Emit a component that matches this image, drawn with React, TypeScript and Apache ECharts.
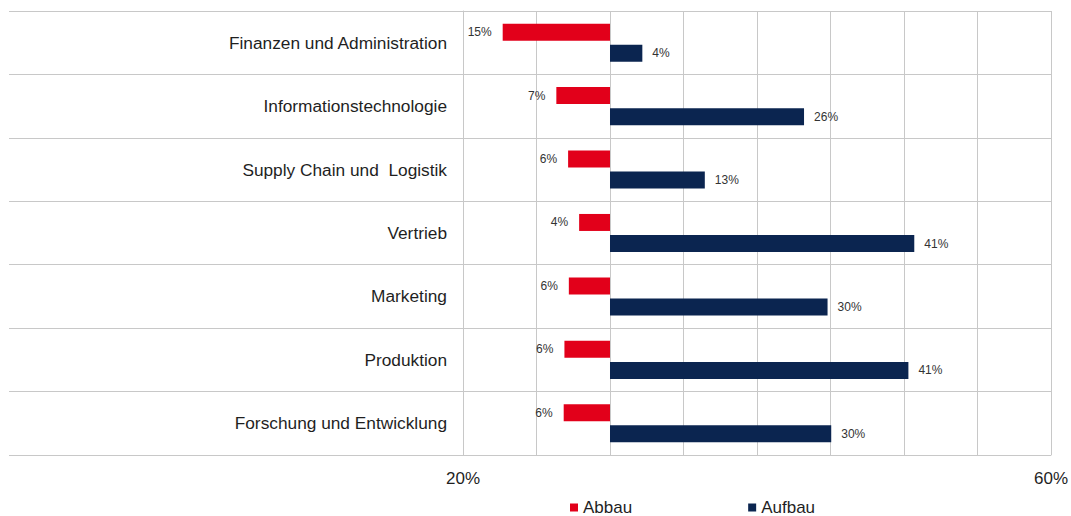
import React, { useEffect, useRef } from "react";
import * as echarts from "echarts";

const categories = [
  "Finanzen und Administration",
  "Informationstechnologie",
  "Supply Chain und  Logistik",
  "Vertrieb",
  "Marketing",
  "Produktion",
  "Forschung und Entwicklung",
];
const abbau = [14.6, 7.3, 5.7, 4.2, 5.6, 6.2, 6.3];
const aufbau = [4.4, 26.4, 12.9, 41.4, 29.6, 40.6, 30.1];
const axisLabelsShown = [-20, 60];

const FONT = "'Liberation Sans', Arial, sans-serif";
const GRID = "#c8c8c8";

export default function App() {
  const ref = useRef<HTMLDivElement>(null);
  useEffect(() => {
    document.body.style.margin = "0";
    const chart = echarts.init(ref.current!, undefined, { renderer: "svg" });
    chart.setOption({
      animation: false,
      textStyle: { fontFamily: FONT },
      grid: { left: 463, right: 17.5, top: 11, bottom: 61, containLabel: false },
      legend: {
        left: 570,
        top: 499,
        padding: 0,
        itemGap: 116,
        itemWidth: 8,
        itemHeight: 8,
        icon: "rect",
        textStyle: { fontSize: 17, color: "#1f1f1f", fontFamily: FONT },
        data: ["Abbau", "Aufbau"],
      },
      xAxis: {
        type: "value",
        min: -20,
        max: 60,
        interval: 10,
        axisLine: { show: true, lineStyle: { color: GRID } },
        axisTick: { show: false },
        splitLine: { show: true, lineStyle: { color: GRID, width: 1 } },
        axisLabel: {
          fontSize: 17,
          color: "#1f1f1f",
          margin: 15,
          showMinLabel: true,
          showMaxLabel: true,
          formatter: (v: number) => (axisLabelsShown.includes(v) ? Math.abs(v) + "%" : ""),
        },
      },
      yAxis: {
        type: "category",
        inverse: true,
        data: categories,
        axisLine: { show: true, onZero: false, lineStyle: { color: GRID } },
        axisTick: { show: true, length: 454, lineStyle: { color: GRID } },
        splitLine: { show: true, lineStyle: { color: GRID } },
        axisLabel: { fontSize: 17.3, color: "#1f1f1f", margin: 16 },
      },
      series: [
        {
          name: "Abbau",
          type: "bar",
          data: abbau.map((v) => -v),
          barWidth: 17,
          barGap: "24%",
          itemStyle: { color: "#E2001A" },
          label: {
            show: true,
            position: "left",
            distance: 11,
            fontSize: 12,
            color: "#333",
            formatter: (p: any) => Math.round(Math.abs(p.value)) + "%",
          },
        },
        {
          name: "Aufbau",
          type: "bar",
          data: aufbau,
          barWidth: 17,
          barGap: "24%",
          itemStyle: { color: "#0B2550" },
          label: {
            show: true,
            position: "right",
            distance: 10,
            fontSize: 12,
            color: "#333",
            formatter: (p: any) => Math.round(p.value) + "%",
          },
        },
      ],
    });
    return () => chart.dispose();
  }, []);
  return <div ref={ref} style={{ width: 1071, height: 516 }} />;
}
